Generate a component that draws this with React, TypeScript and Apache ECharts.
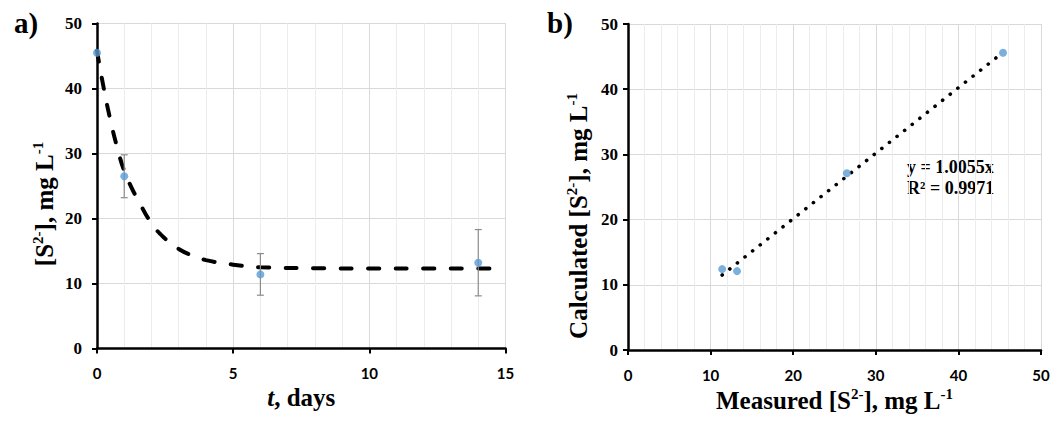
import React, { useEffect, useRef } from 'react';
import * as echarts from 'echarts';

// ---- data ----
const daysT = [0, 1, 6, 14];
const sulfideMean = [45.5, 26.5, 11.4, 13.2];
const sulfideErr = [0, 3.3, 3.2, 5.1];

const fitT = [0, 0.25, 0.5, 0.75, 1, 1.25, 1.5, 2, 2.5, 3, 3.5, 4, 5, 6, 8, 10, 12, 14.5];
const fitY = [45.8, 40.0, 35.0, 30.8, 27.3, 24.9, 22.9, 19.3, 16.9, 15.3, 14.3, 13.6, 12.9, 12.5, 12.35, 12.3, 12.3, 12.3];

const measured = [11.4, 13.2, 26.5, 45.4];
const calculated = [12.4, 12.1, 27.1, 45.6];
const trendX = [11.4, 45.4];
const trendY = [11.5, 45.65];

const eqText = 'y = 1.0055x';
const r2Text = 'R\u00b2 = 0.9971';
const panelLabels = ['a)', 'b)'];
const yTitleA = '{m|[S}{s|2-}{m|], mg L}{s|-1}';
const yTitleB = '{m|Calculated [S}{s|2-}{m|], mg L}{s|-1}';
const xTitleA = '{i|t}{m|, days}';
const xTitleB = '{m|Measured [S}{s|2-}{m|], mg L}{s|-1}';

const SERIF = '"Liberation Serif", "Times New Roman", serif';
const SANS = 'Lato, "Open Sans", sans-serif';
const BLUE = '#5b9bd5';

const richName = {
  m: { fontFamily: SERIF, fontWeight: 'bold', fontSize: 25, color: '#000', lineHeight: 28 },
  i: { fontFamily: SERIF, fontWeight: 'bold', fontStyle: 'italic', fontSize: 25, color: '#000', lineHeight: 28 },
  s: { fontFamily: SERIF, fontWeight: 'bold', fontSize: 15, color: '#000', lineHeight: 15, verticalAlign: 'top' },
};

// same styles for raw graphic text (zrender uses fill)
const richG = {
  m: { fontFamily: SERIF, fontWeight: 'bold', fontSize: 25, fill: '#000', lineHeight: 28 },
  s: { fontFamily: SERIF, fontWeight: 'bold', fontSize: 15, fill: '#000', lineHeight: 15, verticalAlign: 'top' },
};

function xAxisCfg(gridIndex: number, max: number, interval: number, name: string) {
  return {
    type: 'value',
    gridIndex,
    min: 0,
    max,
    interval,
    name,
    nameLocation: 'middle',
    nameGap: 34,
    nameTextStyle: { rich: richName },
    axisLine: { show: true, onZero: false, lineStyle: { color: '#000', width: 2.5 } },
    axisTick: { show: true, length: 5, lineStyle: { color: '#000', width: 2 } },
    axisLabel: { margin: 17, fontFamily: SANS, fontWeight: 'bold', fontSize: 15, color: '#000' },
    splitLine: { show: true, lineStyle: { color: '#d9d9d9', width: 1 } },
    minorTick: { show: false, splitNumber: 5 },
    minorSplitLine: { show: true, lineStyle: { color: '#ececec', width: 1 } },
  };
}

function yAxisCfg(gridIndex: number, labelMargin: number) {
  return {
    type: 'value',
    gridIndex,
    min: 0,
    max: 50,
    interval: 10,
    axisLine: { show: true, onZero: false, lineStyle: { color: '#000', width: 2.5 } },
    axisTick: { show: true, length: 5, lineStyle: { color: '#000', width: 2 } },
    axisLabel: { margin: labelMargin, fontFamily: SERIF, fontWeight: 'bold', fontSize: 17, color: '#000' },
    splitLine: { show: true, lineStyle: { color: '#d9d9d9', width: 1 } },
  };
}

export default function App() {
  const ref = useRef<HTMLDivElement>(null);

  useEffect(() => {
    if (!ref.current) return;
    const chart = echarts.init(ref.current, undefined, { renderer: 'svg' });

    const errData = daysT
      .map((t, i) => [t, sulfideMean[i] - sulfideErr[i], sulfideMean[i] + sulfideErr[i], sulfideErr[i]])
      .filter((d) => d[3] > 0);

    const option = {
      animation: false,
      backgroundColor: '#fff',
      title: [
        {
          text: panelLabels[0], left: 9, top: 3,
          textStyle: { fontFamily: SERIF, fontWeight: 'bold', fontSize: 29, color: '#000' },
        },
        {
          text: panelLabels[1], left: 542, top: 3,
          textStyle: { fontFamily: SERIF, fontWeight: 'bold', fontSize: 29, color: '#000' },
        },
      ],
      grid: [
        { left: 97, top: 23.5, width: 408.5, height: 325 },
        { left: 628, top: 24, width: 413, height: 326 },
      ],
      xAxis: [xAxisCfg(0, 15, 5, xTitleA), xAxisCfg(1, 50, 10, xTitleB)],
      yAxis: [yAxisCfg(0, 15), yAxisCfg(1, 10)],
      series: [
        {
          type: 'line',
          xAxisIndex: 0,
          yAxisIndex: 0,
          data: fitT.map((t, i) => [t, fitY[i]]),
          smooth: 0.5,
          showSymbol: false,
          symbol: 'none',
          lineStyle: { color: '#000', width: 4, type: [11, 16.5], cap: 'round' },
          z: 3,
        },
        {
          type: 'custom',
          xAxisIndex: 0,
          yAxisIndex: 0,
          data: errData,
          encode: { x: 0, y: [1, 2] },
          renderItem: (params: any, api: any) => {
            const x = api.value(0);
            const lo = api.coord([x, api.value(1)]);
            const hi = api.coord([x, api.value(2)]);
            const w = 3.5;
            const st = { stroke: '#8c8c8c', lineWidth: 1.2 };
            return {
              type: 'group',
              children: [
                { type: 'line', shape: { x1: lo[0], y1: lo[1], x2: hi[0], y2: hi[1] }, style: st },
                { type: 'line', shape: { x1: lo[0] - w, y1: lo[1], x2: lo[0] + w, y2: lo[1] }, style: st },
                { type: 'line', shape: { x1: hi[0] - w, y1: hi[1], x2: hi[0] + w, y2: hi[1] }, style: st },
              ],
            };
          },
          z: 4,
        },
        {
          type: 'scatter',
          xAxisIndex: 0,
          yAxisIndex: 0,
          data: daysT.map((t, i) => [t, sulfideMean[i]]),
          symbolSize: 8,
          itemStyle: { color: BLUE },
          z: 5,
        },
        {
          type: 'line',
          xAxisIndex: 1,
          yAxisIndex: 1,
          data: trendX.map((x, i) => [x, trendY[i]]),
          showSymbol: false,
          symbol: 'none',
          lineStyle: { color: '#000', width: 3.6, type: [0.1, 9.6], cap: 'round' },
          z: 3,
        },
        {
          type: 'scatter',
          xAxisIndex: 1,
          yAxisIndex: 1,
          data: measured.map((x, i) => [x, calculated[i]]),
          symbolSize: 8,
          itemStyle: { color: BLUE },
          z: 5,
        },
      ],
      graphic: [
        {
          type: 'text', x: 44, y: 204, rotation: Math.PI / 2,
          style: { text: yTitleA, rich: richG, align: 'center', verticalAlign: 'middle' },
        },
        {
          type: 'text', x: 578, y: 216, rotation: Math.PI / 2,
          style: { text: yTitleB, rich: richG, align: 'center', verticalAlign: 'middle' },
        },
        {
          type: 'text', left: 907, top: 158,
          style: { text: eqText, fontFamily: SERIF, fontWeight: 'bold', fontSize: 18, fill: '#000' },
        },
        {
          type: 'text', left: 907, top: 179,
          style: { text: r2Text, fontFamily: SERIF, fontWeight: 'bold', fontSize: 18, fill: '#000' },
        },
      ],
    };

    chart.setOption(option as any);
    return () => chart.dispose();
  }, []);

  return (
    <div
      ref={ref}
      style={{ position: 'fixed', left: 0, top: 0, width: 1055, height: 421, background: '#fff' }}
    />
  );
}
